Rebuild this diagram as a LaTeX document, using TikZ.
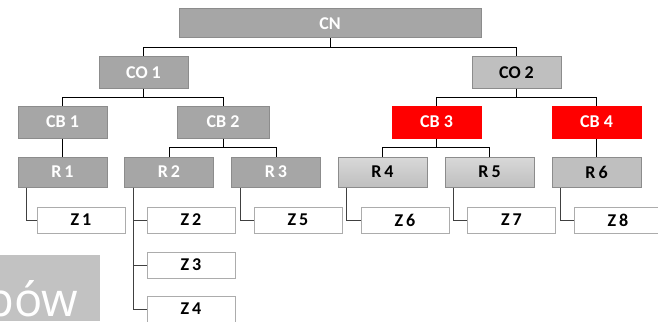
\documentclass[tikz,border=0pt]{standalone}
\usepackage{fontspec}
\setmainfont{Carlito}
\newfontfamily\bgfont{Open Sans}
\usetikzlibrary{positioning}

\definecolor{midgray}{HTML}{A6A6A6}
\definecolor{lightgray}{HTML}{BFBFBF}
\definecolor{edgegray}{HTML}{8C8C8C}
\definecolor{boxred}{HTML}{FF0000}

\tikzset{
	unit/.style={minimum width=89pt, minimum height=30pt, inner sep=0pt,
		font=\fontsize{18}{20}\selectfont\bfseries, draw=edgegray, line width=1pt},
	darkunit/.style={unit, fill=midgray, text=white},
	paleunit/.style={unit, fill=lightgray, text=black},
	shadeunit/.style={unit, top color=lightgray!60, bottom color=lightgray, text=black},
	redunit/.style={unit, fill=boxred, draw=boxred, text=white},
	leafunit/.style={unit, minimum width=88pt, minimum height=26pt, fill=white, draw=lightgray!90!black, text=black},
	link/.style={line width=1pt, black},
	leaflink/.style={line width=1pt, black!75}
}

\begin{document}
\begin{tikzpicture}[x=1pt, y=-1pt]
	\useasboundingbox (0,0) rectangle (658,321);
	
	% grey block in the corner
	\begin{scope}
		\clip (0,255) rectangle (100,321);
		\fill[lightgray!95!white] (0,255) rectangle (100,321);
		\node[anchor=base west, inner sep=0pt, text=white, font=\bgfont\fontsize{47}{50}\selectfont] (tail) at (-15,316) {pów};
	\end{scope}
	
	% top levels
	\node[darkunit, minimum width=302pt, minimum height=29pt] (cn) at (330,23.5) {CN};
	\node[darkunit, minimum height=31pt] (co1) at (143.5,72.5) {CO 1};
	\node[paleunit, minimum height=31pt] (co2) at (516.5,72.5) {CO 2};
	
	\node[darkunit, minimum height=32pt] (cb1) at (62.5,122) {CB 1};
	\node[darkunit, minimum height=32pt, minimum width=92pt] (cb2) at (223,122) {CB 2};
	\node[redunit, minimum height=32pt] (cb3) at (436.5,122) {CB 3};
	\node[redunit, minimum height=32pt] (cb4) at (596.5,122) {CB 4};
	
	\node[darkunit] (r1) at (62.5,172) {R\,1};
	\node[darkunit] (r2) at (169,172) {R\,2};
	\node[darkunit] (r3) at (276,172) {R\,3};
	\node[shadeunit] (r4) at (382.5,172) {R\,4};
	\node[shadeunit] (r5) at (489.5,172) {R\,5};
	\node[paleunit] (r6) at (596.5,172) {R\,6};
	
	% leaves
	\node[leafunit] (z1) at (81,220) {Z\,1};
	\node[leafunit] (z2) at (191,220) {Z\,2};
	\node[leafunit] (z3) at (191,265) {Z\,3};
	\node[leafunit] (z4) at (191,309) {Z\,4};
	\node[leafunit] (z5) at (298,220) {Z\,5};
	\node[leafunit] (z6) at (405,220) {Z\,6};
	\node[leafunit] (z7) at (511.5,220) {Z\,7};
	\node[leafunit] (z8) at (618,220) {Z\,8};
	
	% tree links
	\draw[link] (cn.south) -- ++(0,9) -| (co1.north);
	\draw[link] (cn.south) -- ++(0,9) -| (co2.north);
	\draw[link] (co1.south) -- ++(0,9) -| (cb1.north);
	\draw[link] (co1.south) -- ++(0,9) -| (cb2.north);
	\draw[link] (co2.south) -- ++(0,9) -| (cb3.north);
	\draw[link] (co2.south) -- ++(0,9) -| (cb4.north);
	\draw[link] (cb1.south) -- (r1.north);
	\draw[link] (cb2.south) -- ++(0,9) -| (r2.north);
	\draw[link] (cb2.south) -- ++(0,9) -| (r3.north);
	\draw[link] (cb3.south) -- ++(0,9) -| (r4.north);
	\draw[link] (cb3.south) -- ++(0,9) -| (r5.north);
	\draw[link] (cb4.south) -- (r6.north);
	
	\draw[leaflink] ([xshift=9]r1.south west) |- (z1.west);
	\draw[leaflink] ([xshift=9]r2.south west) |- (z4.west);
	\draw[leaflink] ([xshift=9]r2.south west) |- (z3.west);
	\draw[leaflink] ([xshift=9]r2.south west) |- (z2.west);
	\draw[leaflink] ([xshift=9]r3.south west) |- (z5.west);
	\draw[leaflink] ([xshift=9]r4.south west) |- (z6.west);
	\draw[leaflink] ([xshift=9]r5.south west) |- (z7.west);
	\draw[leaflink] ([xshift=9]r6.south west) |- (z8.west);
\end{tikzpicture}
\end{document}
